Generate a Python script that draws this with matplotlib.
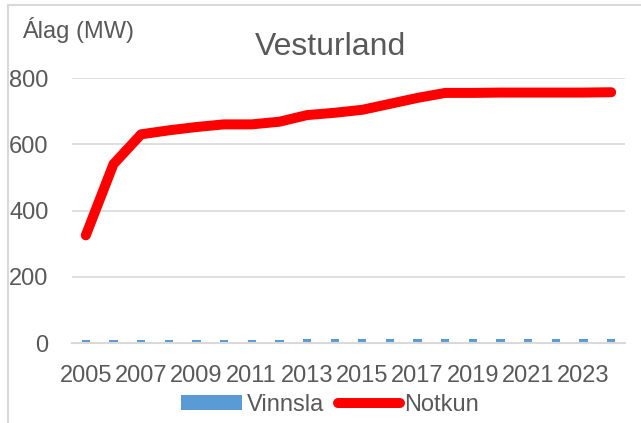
import matplotlib
matplotlib.use("Agg")
import matplotlib.pyplot as plt
from matplotlib.lines import Line2D
from matplotlib.patches import Patch
import numpy as np

years = list(range(2005, 2025))
vinnsla = [10, 10, 10, 10, 10, 10, 10, 10, 11, 11, 11, 11, 11, 11, 11, 11, 11, 11, 11, 11]
notkun = [325, 540, 630, 642, 652, 660, 660, 668, 688, 695, 704, 722, 740, 755, 755, 756, 756, 756, 756, 757]
tick_labels = [str(y) for y in years[::2]]
title = "Vesturland"
ylabel = "Álag (MW)"

plt.rcParams['font.family'] = ['Liberation Sans Narrow', 'Liberation Sans', 'DejaVu Sans']
gray = '#595959'

fig = plt.figure(figsize=(6.41, 4.23), dpi=100)
ax = fig.add_axes([72/641, 1-343/423, (625-72)/641, 265/423])

x = np.arange(len(years))
ax.bar(x, vinnsla, width=0.3, color='#5b9bd5', zorder=2)
ax.plot(x, notkun, color='#ff0000', lw=7.2, solid_capstyle='round', solid_joinstyle='round', zorder=3)

ax.set_xlim(-0.5, len(years) - 0.5)
ax.set_ylim(0, 800)
ax.set_yticks([0, 200, 400, 600, 800])
ax.set_xticks(x[::2])
ax.set_xticklabels(tick_labels)
ax.grid(axis='y', color='#d9d9d9', lw=1.2, zorder=0)
ax.set_axisbelow(True)
for s in ['top', 'right', 'left']:
    ax.spines[s].set_visible(False)
ax.spines['bottom'].set_color('#d9d9d9')
ax.spines['bottom'].set_linewidth(1.5)
ax.tick_params(axis='both', length=0, labelsize=17, colors=gray)
ax.tick_params(axis='x', pad=16)
ax.tick_params(axis='y', pad=17)

fig.text(330/641, 1-47/423, title, ha='center', va='center', fontsize=23, color=gray)
fig.text(22/641, 1-30/423, ylabel, ha='left', va='center', fontsize=17, color=gray)

handles = [Patch(facecolor='#5b9bd5', edgecolor='none'),
           Line2D([0], [0], color='#ff0000', lw=7.2, solid_capstyle='round')]
fig.legend(handles, ['Vinnsla', 'Notkun'], loc='center', bbox_to_anchor=(330/641, 1-405/423),
           ncol=2, frameon=False, fontsize=17, labelcolor=gray, handlelength=2.6,
           handletextpad=0.2, columnspacing=0.6, handleheight=0.6)

# outer chart border (top and left visible)
fig.add_artist(Line2D([8/641, 8/641], [0, 1-5/423], transform=fig.transFigure, color='#d9d9d9', lw=1.5))
fig.add_artist(Line2D([8/641, 1], [1-5/423, 1-5/423], transform=fig.transFigure, color='#d9d9d9', lw=1.5))

fig.savefig('out.png', dpi=100)
